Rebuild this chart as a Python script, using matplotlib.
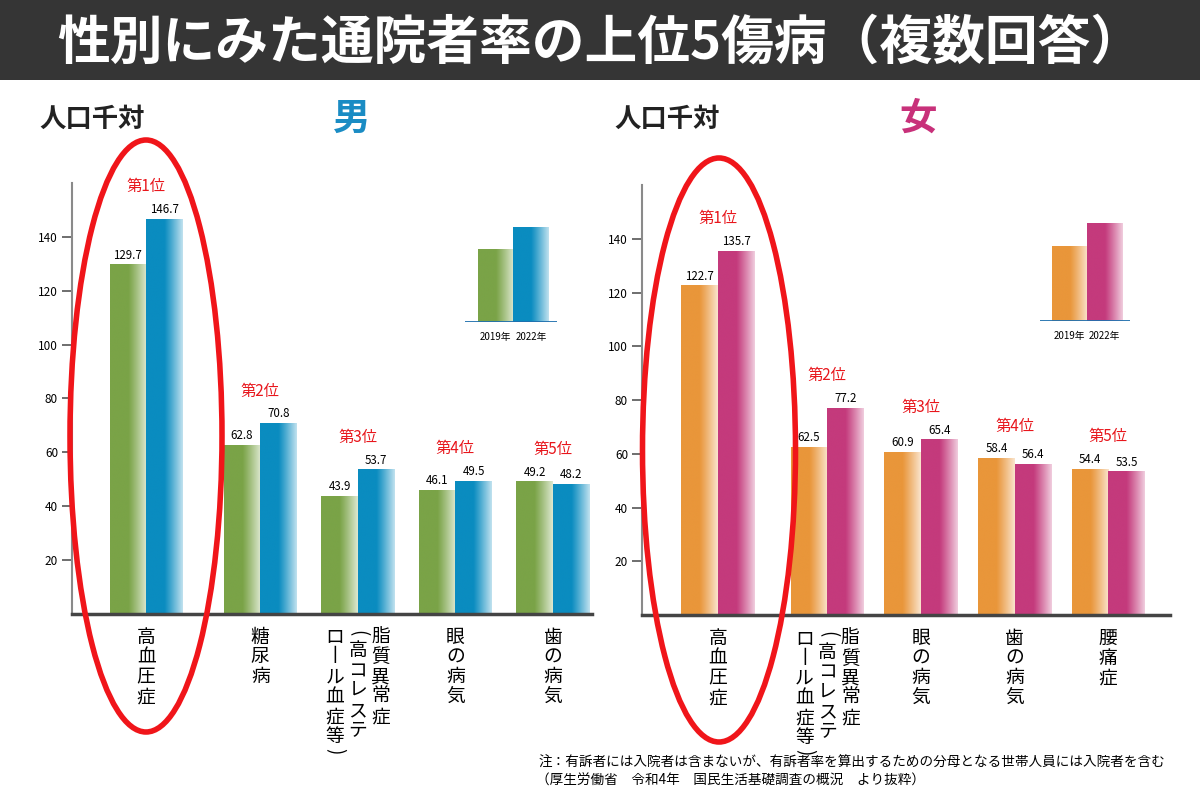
import numpy as np
import matplotlib
matplotlib.use("Agg")
import matplotlib.pyplot as plt
from matplotlib.patches import Ellipse, Rectangle
from matplotlib.colors import to_rgb

plt.rcParams['font.family'] = ['Noto Sans CJK JP', 'DejaVu Sans']

# ---------------- data ----------------
title = "性別にみた通院者率の上位5傷病（複数回答）"
unit_label = "人口千対"
years = ["2019年", "2022年"]
ranks = ["第1位", "第2位", "第3位", "第4位", "第5位"]

male_categories = ["高血圧症", "糖尿病", "脂質異常症|（高コレステ|ロール血症等）", "眼の病気", "歯の病気"]
male_2019 = [129.7, 62.8, 43.9, 46.1, 49.2]
male_2022 = [146.7, 70.8, 53.7, 49.5, 48.2]

female_categories = ["高血圧症", "脂質異常症|（高コレステ|ロール血症等）", "眼の病気", "歯の病気", "腰痛症"]
female_2019 = [122.7, 62.5, 60.9, 58.4, 54.4]
female_2022 = [135.7, 77.2, 65.4, 56.4, 53.5]

legend_sample = [72, 94]
yticks = [20, 40, 60, 80, 100, 120, 140]

note1 = "注：有訴者には入院者は含まないが、有訴者率を算出するための分母となる世帯人員には入院者を含む"
note2 = "（厚生労働省　令和4年　国民生活基礎調査の概況　より抜粋）"

# ---------------- style ----------------
GREEN = "#7aa347"
BLUE = "#0a8cc0"
ORANGE = "#e9963a"
MAGENTA = "#c43a7c"
RED = "#e8161c"

fig = plt.figure(figsize=(12, 8), dpi=100)
fig.patch.set_facecolor("white")

# title bar
fig.patches.append(Rectangle((0, 0.9), 1, 0.1, transform=fig.transFigure,
                             facecolor="#353535", edgecolor="none", zorder=0))
fig.text(0.5, 0.946, title, color="white", fontsize=38, fontweight="bold",
         ha="center", va="center")


def gradient_img(color):
    r, g, b = to_rgb(color)
    t = np.linspace(0, 1, 200)
    m = np.clip((t - 0.5) / 0.5, 0, 1) ** 1.1 * 0.75
    arr = np.zeros((2, 200, 3))
    for i, c in enumerate((r, g, b)):
        arr[:, :, i] = c + (1 - c) * m
    return arr


def grad_bars(ax, x, h, w, color, zorder=3):
    bars = ax.bar(x, h, w, facecolor="none", edgecolor="none", zorder=zorder)
    img = gradient_img(color)
    for b in bars:
        x0, y0 = b.get_x(), b.get_y()
        im = ax.imshow(img, extent=[x0, x0 + b.get_width(), y0, y0 + b.get_height()],
                       aspect="auto", origin="lower", zorder=zorder, interpolation="bilinear")
        im.set_clip_path(b)
    return bars


LBL_FS = 13.5
LSP = 0.93
PITCH_PT = 14.7   # approx point pitch of one vertical character at LSP
TOP = -9.0


def vertical_label(ax, x, text, dx):
    y = TOP
    body = text
    if body.startswith("（"):
        ax.annotate("(", (x, 0), xycoords=("data", "axes fraction"),
                    xytext=(dx, y - 5.0), textcoords="offset points", ha="center",
                    va="center", rotation=-90, fontsize=LBL_FS, annotation_clip=False)
        body = body[1:]
        y -= 10.0
    close = body.endswith("）")
    if close:
        body = body[:-1]
    body = body.replace("ー", "丨")
    ax.annotate("\n".join(body), (x, 0), xycoords=("data", "axes fraction"),
                xytext=(dx, y), textcoords="offset points", ha="center",
                va="top", fontsize=LBL_FS, linespacing=LSP, annotation_clip=False)
    if close:
        yc = y - len(body) * PITCH_PT - 1.5
        ax.annotate(")", (x, 0), xycoords=("data", "axes fraction"),
                    xytext=(dx, yc), textcoords="offset points", ha="center",
                    va="center", rotation=-90, fontsize=LBL_FS, annotation_clip=False)


def make_panel(rect, cats, v1, v2, c1, c2, xlim, width, ellipse):
    ax = fig.add_axes(rect)
    n = len(cats)
    x = np.arange(n) + (np.arange(n) > 0) * 0.17
    grad_bars(ax, x - width / 2, v1, width, c1)
    grad_bars(ax, x + width / 2, v2, width, c2)
    ax.set_xlim(*xlim)
    ax.set_ylim(0, 160)
    ax.set_yticks(yticks)
    ax.set_xticks([])
    for s in ["top", "right"]:
        ax.spines[s].set_visible(False)
    ax.spines["left"].set_color("#8a8a8a")
    ax.spines["left"].set_linewidth(1.5)
    ax.spines["bottom"].set_color("#444444")
    ax.spines["bottom"].set_linewidth(2.5)
    ax.spines["bottom"].set_zorder(5)
    ax.tick_params(axis="y", length=7, width=1.2, color="#555555", labelsize=8.5, pad=3)
    ax.set_facecolor("none")
    for i in range(n):
        ax.annotate(f"{v1[i]:.1f}", (x[i] - width / 2, v1[i]), xytext=(0, 2),
                    textcoords="offset points", ha="center", va="bottom", fontsize=8.3)
        ax.annotate(f"{v2[i]:.1f}", (x[i] + width / 2, v2[i]), xytext=(0, 2),
                    textcoords="offset points", ha="center", va="bottom", fontsize=8.3)
        top = max(v1[i], v2[i])
        ax.annotate(ranks[i], (x[i], top), xytext=(0, 17), textcoords="offset points",
                    ha="center", va="bottom", fontsize=11, color=RED)
        cols = cats[i].split("|")
        nc = len(cols)
        for j, col in enumerate(cols):
            dx = ((nc - 1) / 2 - j) * 16.5
            vertical_label(ax, x[i], col, dx)
    fig.patches.append(Ellipse(ellipse[:2], ellipse[2], ellipse[3], transform=fig.transFigure,
                               facecolor="none", edgecolor="#f0151a", linewidth=4, zorder=10))
    return ax


# left panel (male)
make_panel([0.06, 0.2325, 0.4333, 0.539], male_categories, male_2019, male_2022, GREEN, BLUE,
           (-0.76, 4.57), 0.375, (146 / 1200, 1 - 436 / 800, 152 / 1200, 592 / 800))
# right panel (female)
make_panel([0.535, 0.231, 0.44, 0.5375], female_categories, female_2019, female_2022, ORANGE, MAGENTA,
           (-0.81, 4.83), 0.39, (719 / 1200, 1 - 450 / 800, 153 / 1200, 584 / 800))

fig.text(0.033, 0.851, unit_label, fontsize=19, fontweight="bold", ha="left", va="center", color="#222222")
fig.text(0.512, 0.851, unit_label, fontsize=19, fontweight="bold", ha="left", va="center", color="#222222")
fig.text(352 / 1200, 0.852, "男", fontsize=27, fontweight="bold", color="#1a8cc4", ha="center", va="center")
fig.text(918 / 1200, 0.852, "女", fontsize=27, fontweight="bold", color="#c8317a", ha="center", va="center")


def legend_inset(px0, px1, py_base, py_top, c1, c2):
    ax = fig.add_axes([px0 / 1200, 1 - py_base / 800, (px1 - px0) / 1200, (py_base - py_top) / 800])
    xs = np.array([0, 1])
    grad_bars(ax, xs[:1], legend_sample[:1], 1.0, c1)
    grad_bars(ax, xs[1:], legend_sample[1:], 1.0, c2)
    ax.set_xlim(-0.85, 1.72)
    ax.set_ylim(0, max(legend_sample) * 1.05)
    ax.axis("off")
    ax.axhline(0, color="#1f6fae", lw=1.3, zorder=6)
    ax.set_facecolor("none")
    for i, y in enumerate(years):
        ax.annotate(y, (xs[i], 0), xytext=(0, -7), textcoords="offset points",
                    ha="center", va="top", fontsize=7, annotation_clip=False)


legend_inset(465, 557, 322, 222, GREEN, BLUE)
legend_inset(1040, 1130, 321, 218, ORANGE, MAGENTA)

fig.text(0.971, 0.046, note1, fontsize=9.8, ha="right", va="center")
fig.text(0.447, 0.024, note2, fontsize=9.8, ha="left", va="center")

fig.savefig("out.png", dpi=100)
